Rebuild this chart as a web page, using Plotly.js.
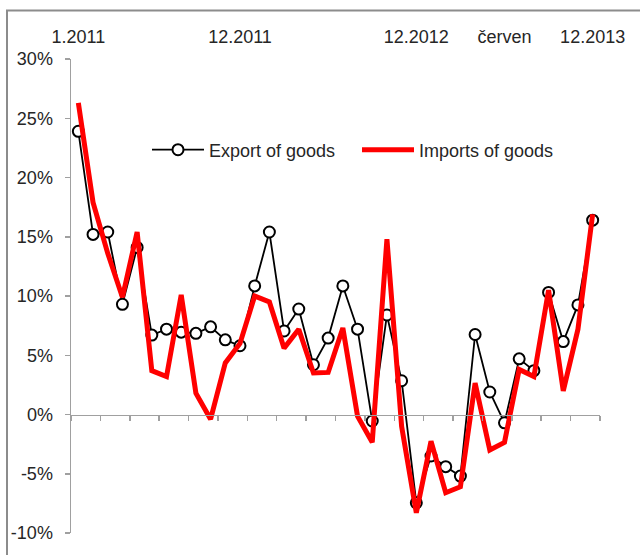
<!DOCTYPE html>
<html>
<head>
<meta charset="utf-8">
<script src="https://cdn.plot.ly/plotly-3.0.1.min.js"></script>
<style>html,body{margin:0;padding:0;background:#fff;}#chart{width:640px;height:555px;}</style>
</head>
<body>
<div id="chart"></div>
<script>
// Months 1.2011 .. 12.2013
const months = [
  "1.2011","2.2011","3.2011","4.2011","5.2011","6.2011","7.2011","8.2011","9.2011","10.2011","11.2011","12.2011",
  "1.2012","2.2012","3.2012","4.2012","5.2012","6.2012","7.2012","8.2012","9.2012","10.2012","11.2012","12.2012",
  "1.2013","2.2013","3.2013","4.2013","5.2013","6.2013","7.2013","8.2013","9.2013","10.2013","11.2013","12.2013"
];
// Year-on-year change, %
const exportGoods = [
  23.9, 15.2, 15.4, 9.3, 14.1, 6.7, 7.2, 6.95, 6.85, 7.4, 6.3, 5.8,
  10.85, 15.4, 7.05, 8.9, 4.2, 6.45, 10.85, 7.2, -0.55, 8.4, 2.85, -7.45,
  -3.5, -4.4, -5.2, 6.75, 1.9, -0.7, 4.7, 3.7, 10.3, 6.15, 9.25, 16.4
];
const importsGoods = [
  26.3, 17.9, 13.6, 9.9, 15.4, 3.7, 3.2, 10.1, 1.8, -0.4, 4.35, 6.0,
  10.0, 9.5, 5.6, 7.2, 3.5, 3.55, 7.3, -0.15, -2.35, 14.8, -1.0, -8.3,
  -2.25, -6.6, -6.1, 2.65, -3.0, -2.35, 3.8, 3.2, 10.5, 2.0, 7.2, 16.9
];
const seriesNames = ["Export of goods", "Imports of goods"];
const topTickMonths = ["1.2011", "12.2011", "12.2012", "6.2013", "12.2013"];
const topTickLabels = ["1.2011", "12.2011", "12.2012", "červen", "12.2013"];
const yTicks = [-10, -5, 0, 5, 10, 15, 20, 25, 30];
const yTickLabels = yTicks.map(v => String(v) + "%");

const yMin = -10, yMax = 30;
const font = {family: "Liberation Sans, Arial, sans-serif", size: 18, color: "#262626"};

const traces = [
  {
    type: "scatter", mode: "lines+markers", name: seriesNames[0],
    x: months, y: exportGoods,
    line: {color: "#000", width: 1.8},
    marker: {symbol: "circle", size: 11, color: "#fff", line: {color: "#000", width: 2}}
  },
  {
    type: "scatter", mode: "lines", name: seriesNames[1],
    x: months, y: importsGoods,
    line: {color: "#ff0000", width: 5}
  },
  {
    type: "scatter", mode: "lines", x: months, y: months.map(() => null),
    xaxis: "x2", showlegend: false, hoverinfo: "skip"
  }
];

const layout = {
  width: 640, height: 555,
  margin: {l: 71, r: 40, t: 59, b: 22},
  paper_bgcolor: "#fff", plot_bgcolor: "rgba(0,0,0,0)",
  font: font,
  showlegend: true,
  legend: {
    orientation: "h", x: (147 - 71) / 529, xanchor: "left", y: 0.808, yanchor: "middle",
    font: font, itemwidth: 52, entrywidth: 143, entrywidthmode: "pixels",
    bgcolor: "rgba(0,0,0,0)"
  },
  xaxis: {
    type: "category", categoryorder: "array", categoryarray: months,
    range: [-0.5, months.length - 0.5],
    anchor: "free", position: (0 - yMin) / (yMax - yMin),
    showline: true, linecolor: "#a0a0a0", linewidth: 1.5,
    ticks: "outside", tickson: "boundaries", ticklen: 5, tickcolor: "#a0a0a0", tickwidth: 1.5,
    showticklabels: false, showgrid: false, zeroline: false
  },
  xaxis2: {
    type: "category", categoryorder: "array", categoryarray: months,
    overlaying: "x", side: "top", anchor: "y",
    range: [-0.5, months.length - 0.5],
    tickmode: "array", tickvals: topTickMonths, ticktext: topTickLabels,
    ticks: "", showline: false, showgrid: false, zeroline: false,
    tickfont: font, ticklabelstandoff: 11
  },
  yaxis: {
    range: [yMin, yMax],
    tickmode: "array", tickvals: yTicks, ticktext: yTickLabels,
    showline: true, linecolor: "#a0a0a0", linewidth: 1.5,
    ticks: "outside", ticklen: 5, tickcolor: "#a0a0a0", tickwidth: 1.5,
    showgrid: false, zeroline: false, tickfont: font, ticklabelstandoff: 8
  },
  shapes: [{
    type: "rect", xref: "paper", yref: "paper",
    x0: (7 - 71) / 529, x1: (660 - 71) / 529,
    y0: (533 - 575) / 474, y1: (533 - 10.5) / 474,
    line: {color: "#8c8c8c", width: 2}, fillcolor: "rgba(0,0,0,0)", layer: "below"
  }]
};

Plotly.newPlot("chart", traces, layout, {staticPlot: true, displayModeBar: false});
</script>
</body>
</html>
